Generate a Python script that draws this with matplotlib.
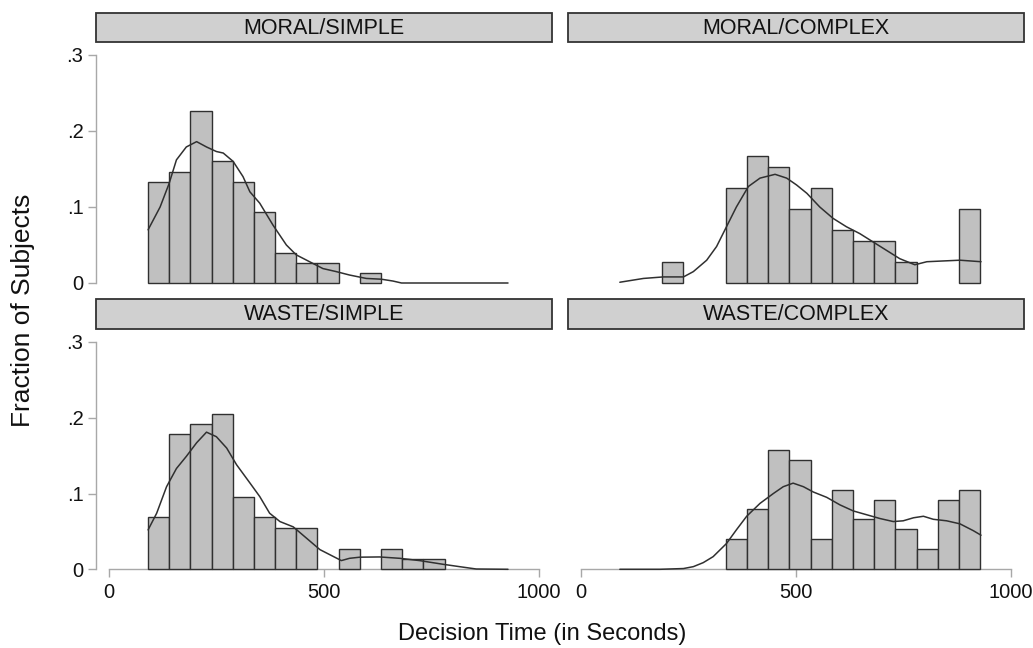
import matplotlib
matplotlib.use("Agg")
import matplotlib.pyplot as plt
from matplotlib.patches import Rectangle
import numpy as np

plt.rcParams['font.family'] = ['Liberation Sans', 'DejaVu Sans']

# ---------------- data ----------------
panel_titles = ["MORAL/SIMPLE", "MORAL/COMPLEX", "WASTE/SIMPLE", "WASTE/COMPLEX"]

bin_edges = [91.0, 140.3, 189.6, 238.9, 288.2, 337.5, 386.8, 436.1, 485.4,
             534.7, 584.0, 633.3, 682.6, 731.9, 781.2, 830.5, 879.8, 929.1]

counts_moral_simple = [10, 11, 17, 12, 10, 7, 3, 2, 2, 0, 1, 0, 0, 0, 0, 0, 0]
counts_moral_complex = [0, 0, 2, 0, 0, 9, 12, 11, 7, 9, 5, 4, 4, 2, 0, 0, 7]
counts_waste_simple = [5, 13, 14, 15, 7, 5, 4, 4, 0, 2, 0, 2, 1, 1, 0, 0, 0]
counts_waste_complex = [0, 0, 0, 0, 0, 3, 6, 12, 11, 3, 8, 5, 7, 4, 2, 7, 8]

kde_x_moral_simple = [91, 119, 140, 157, 180, 204, 227, 250, 266, 289, 312, 328, 351,
                      382, 413, 436, 467, 498, 529, 560, 599, 634, 661, 681, 929]
kde_y_moral_simple = [0.070, 0.100, 0.131, 0.162, 0.179, 0.186, 0.179, 0.173, 0.171,
                      0.160, 0.140, 0.120, 0.105, 0.076, 0.050, 0.037, 0.028, 0.019,
                      0.015, 0.0105, 0.006, 0.005, 0.0026, 0.0, 0.0]

kde_x_moral_complex = [91, 146, 192, 239, 262, 293, 316, 339, 362, 390, 417, 452, 479,
                       502, 526, 556, 587, 618, 649, 680, 711, 742, 777, 805, 843,
                       882, 931]
kde_y_moral_complex = [0.001, 0.006, 0.008, 0.008, 0.015, 0.030, 0.048, 0.074, 0.100,
                       0.127, 0.138, 0.143, 0.138, 0.129, 0.118, 0.100, 0.085, 0.074,
                       0.065, 0.054, 0.043, 0.032, 0.024, 0.028, 0.029, 0.030, 0.028]

kde_x_waste_simple = [91, 111, 134, 157, 180, 204, 227, 250, 274, 297, 328, 351, 374,
                      398, 429, 460, 491, 522, 541, 560, 584, 630, 677, 723, 778, 816,
                      855, 929]
kde_y_waste_simple = [0.052, 0.074, 0.109, 0.133, 0.149, 0.167, 0.181, 0.175, 0.160,
                      0.138, 0.114, 0.096, 0.074, 0.063, 0.056, 0.041, 0.026, 0.017,
                      0.0115, 0.0145, 0.016, 0.0163, 0.0145, 0.0115, 0.0066, 0.0035,
                      0.0004, 0.0]

kde_x_waste_complex = [91, 184, 239, 262, 285, 308, 339, 362, 386, 417, 448, 471, 494,
                       518, 541, 572, 603, 634, 665, 696, 727, 750, 774, 797, 820, 851,
                       882, 913, 931]
kde_y_waste_complex = [0.0, 0.0, 0.001, 0.0035, 0.0088, 0.0167, 0.034, 0.052, 0.070,
                       0.087, 0.100, 0.109, 0.1137, 0.109, 0.102, 0.095, 0.085, 0.077,
                       0.072, 0.067, 0.063, 0.064, 0.068, 0.070, 0.066, 0.064, 0.060,
                       0.051, 0.045]

x_ticks = [0, 500, 1000]
x_tick_labels = ["0", "500", "1000"]
y_ticks = [0, 0.1, 0.2, 0.3]
y_tick_labels = ["0", ".1", ".2", ".3"]

panel_counts = [counts_moral_simple, counts_moral_complex,
                counts_waste_simple, counts_waste_complex]
panel_kde = [(kde_x_moral_simple, kde_y_moral_simple),
             (kde_x_moral_complex, kde_y_moral_complex),
             (kde_x_waste_simple, kde_y_waste_simple),
             (kde_x_waste_complex, kde_y_waste_complex)]

# ---------------- styling / layout ----------------
W, H = 1033, 648
fig = plt.figure(figsize=(W / 100, H / 100), dpi=100)
fig.patch.set_facecolor("white")

BAR_FILL = "#c0c0c0"
BAR_EDGE = "#303030"
STRIP_FILL = "#d0d0d0"
STRIP_EDGE = "#333333"
AXIS_COL = "#a8a8a8"
LINE_COL = "#303030"

cols = [(96, 551.7), (568, 1024)]
rows_axes = [(42.5, 298), (329.5, 580)]
rows_strip = [(13, 42.3), (299.3, 329)]
x0px = [109, 580.7]
xscale = [0.4295, 0.43]
y0px = [283, 569.3]
yscale = [760, 757.7]


def frac(px, py):
    return px / W, 1 - py / H


for i in range(4):
    r, c = divmod(i, 2)
    lx, rx = cols[c]
    ty, by = rows_axes[r]
    ax = fig.add_axes([lx / W, 1 - by / H, (rx - lx) / W, (by - ty) / H])
    ax.set_xlim((lx - x0px[c]) / xscale[c], (rx - x0px[c]) / xscale[c])
    ax.set_ylim((y0px[r] - by) / yscale[r], (y0px[r] - ty) / yscale[r])
    ax.patch.set_alpha(0)

    cnt = np.array(panel_counts[i], dtype=float)
    fr = cnt / cnt.sum()
    edges = np.array(bin_edges)
    mask = fr > 0
    ax.bar(edges[:-1][mask], fr[mask], width=np.diff(edges)[mask], align="edge",
           color=BAR_FILL, edgecolor=BAR_EDGE, linewidth=1.0, zorder=2)
    kx, ky = panel_kde[i]
    ax.plot(kx, ky, color=LINE_COL, linewidth=1.1, zorder=3,
            solid_joinstyle="round", solid_capstyle="round")

    for s in ["top", "right"]:
        ax.spines[s].set_visible(False)
    if c == 0:
        ax.spines["left"].set_color(AXIS_COL)
        ax.spines["left"].set_linewidth(1.0)
        ax.spines["left"].set_bounds(0, 0.3)
        ax.set_yticks(y_ticks)
        ax.set_yticklabels(y_tick_labels)
        ax.tick_params(axis="y", direction="out", length=6, width=1.0,
                       color=AXIS_COL, labelsize=14.5, pad=3, labelcolor="#111111")
    else:
        ax.spines["left"].set_visible(False)
        ax.set_yticks([])
    if r == 1:
        ax.spines["bottom"].set_position(("data", 0))
        ax.spines["bottom"].set_color(AXIS_COL)
        ax.spines["bottom"].set_linewidth(1.0)
        ax.spines["bottom"].set_bounds(0, 1000)
        ax.spines["bottom"].set_zorder(1)
        ax.set_xticks(x_ticks)
        ax.set_xticklabels(x_tick_labels)
        ax.tick_params(axis="x", direction="out", length=6, width=1.0,
                       color=AXIS_COL, labelsize=14.5, pad=4, labelcolor="#111111")
    else:
        ax.spines["bottom"].set_visible(False)
        ax.set_xticks([])

    sty, sby = rows_strip[r]
    fx, fy = frac(lx, sby)
    rect = Rectangle((fx, fy), (rx - lx) / W, (sby - sty) / H, transform=fig.transFigure,
                     facecolor=STRIP_FILL, edgecolor=STRIP_EDGE, linewidth=1.3)
    fig.patches.append(rect)
    tx, tyy = frac((lx + rx) / 2, (sty + sby) / 2 + 0.5)
    fig.text(tx, tyy, panel_titles[i], ha="center", va="center", fontsize=15.5,
             color="#111111")

fig.text(*frac(542, 634), "Decision Time (in Seconds)", ha="center", va="center",
         fontsize=17, color="#111111")
fig.text(*frac(23, 310), "Fraction of Subjects", ha="center", va="center",
         rotation=90, fontsize=19, color="#111111")

fig.savefig("out.png", dpi=100)
